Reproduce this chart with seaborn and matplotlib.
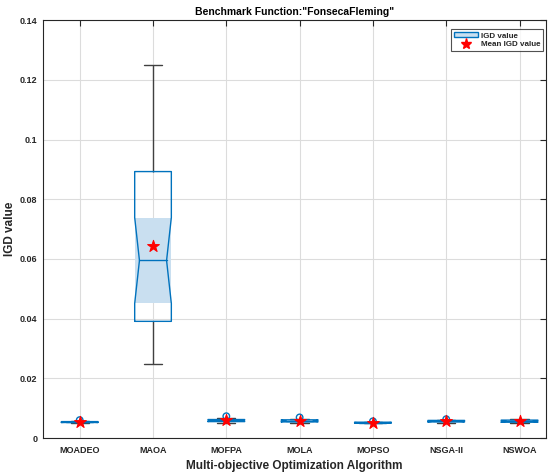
import numpy as np
import pandas as pd
import matplotlib
matplotlib.use("Agg")
import matplotlib.pyplot as plt
import seaborn as sns
from matplotlib.patches import Patch
from matplotlib.lines import Line2D

# ---------------- data ----------------
algorithms = ["MOADEO", "MAOA", "MOFPA", "MOLA", "MOPSO", "NSGA-II", "NSWOA"]
# five-number summaries: lower whisker, Q1, median, Q3, upper whisker
whisker_low = [0.0051, 0.0247, 0.0052, 0.0052, 0.0049, 0.0052, 0.0051]
q1_values   = [0.0052, 0.0391, 0.0055, 0.0054, 0.0050, 0.0054, 0.0053]
medians     = [0.0053, 0.0595, 0.0059, 0.0057, 0.0051, 0.0056, 0.0056]
q3_values   = [0.0055, 0.0893, 0.0062, 0.0061, 0.0053, 0.0059, 0.0060]
whisker_high = [0.0056, 0.1251, 0.0066, 0.0063, 0.0054, 0.0061, 0.0063]
mean_values = [0.0054, 0.0645, 0.0060, 0.0058, 0.0051, 0.0056, 0.0056]
outlier_algorithms = ["MOADEO", "MOFPA", "MOLA", "MOPSO", "NSGA-II"]
outlier_values     = [0.0060, 0.0073, 0.0069, 0.0056, 0.0063]
n_runs = 30
y_ticks = [0, 0.02, 0.04, 0.06, 0.08, 0.1, 0.12, 0.14]
y_tick_labels = ["0", "0.02", "0.04", "0.06", "0.08", "0.1", "0.12", "0.14"]

# ---------------- style ----------------
sns.set_theme(style="white")
plt.rcParams["font.family"] = ["Liberation Sans", "DejaVu Sans"]

BLUE = "#0072BD"
LIGHT = "#c9dff0"
DARK = "#404040"

rows = []
for a, lo, q1, md, q3, hi in zip(algorithms, whisker_low, q1_values, medians, q3_values, whisker_high):
    for v in (lo, q1, md, q3, hi):
        rows.append({"Algorithm": a, "IGD": v})
df = pd.DataFrame(rows)

fig = plt.figure(figsize=(5.52, 4.72), dpi=100)
ax = fig.add_axes([0.078, 0.072, 0.911, 0.885])

width = 0.5
sns.boxplot(data=df, x="Algorithm", y="IGD", order=algorithms, ax=ax,
            whis=(0, 100), width=width, fill=False, showfliers=False,
            linecolor=DARK, linewidth=1.0,
            boxprops=dict(linewidth=0, alpha=0),
            medianprops=dict(linewidth=0, alpha=0),
            whiskerprops=dict(color=DARK, linewidth=1.0),
            capprops=dict(color=DARK, linewidth=1.0),
            zorder=3)

# notched boxes (MATLAB-style), computed from the summaries
half = width / 2
inner = 0.185
for i, (q1, md, q3) in enumerate(zip(q1_values, medians, q3_values)):
    notch = 1.57 * (q3 - q1) / np.sqrt(n_runs)
    nlo, nhi = max(md - notch, q1), min(md + notch, q3)
    ax.fill_between([i - half, i + half], nlo, nhi, color=LIGHT, lw=0, zorder=2)
    xs = [i - half, i - half, i - inner, i - half, i - half,
          i + half, i + half, i + inner, i + half, i + half, i - half]
    ys = [q1, nlo, md, nhi, q3, q3, nhi, md, nlo, q1, q1]
    ax.plot(xs, ys, color=BLUE, lw=1.0, zorder=4)
    ax.plot([i - inner, i + inner], [md, md], color=BLUE, lw=1.0, zorder=4)

# outliers
sns.scatterplot(x=outlier_algorithms, y=outlier_values, ax=ax, marker="o",
                facecolor="none", edgecolor=BLUE, linewidth=1.0, s=22, zorder=5)
# means
sns.scatterplot(x=algorithms, y=mean_values, ax=ax, marker="*", color="red",
                edgecolor="red", s=80, zorder=6)

ax.set_xlim(-0.5, 6.36)
ax.set_ylim(0, 0.14)
ax.set_yticks(y_ticks)
ax.set_yticklabels(y_tick_labels)
ax.grid(True, color="#dcdcdc", lw=0.8, zorder=0)
ax.set_axisbelow(True)
for s in ax.spines.values():
    s.set_color("#262626")
    s.set_linewidth(0.8)
    s.set_visible(True)
ax.tick_params(direction="in", top=True, right=True, length=4, width=0.8,
               labelsize=6.5, colors="#262626")
ax.tick_params(axis="y", pad=4)
ax.tick_params(axis="x", pad=6)
for lab in ax.get_xticklabels() + ax.get_yticklabels():
    lab.set_fontweight("bold")

ax.set_xlabel("Multi-objective Optimization Algorithm", fontsize=8.5,
              fontweight="bold", color="#262626", labelpad=3)
ax.set_ylabel("IGD value", fontsize=8.5, fontweight="bold", color="#262626", labelpad=3)
ax.set_title('Benchmark Function:"FonsecaFleming"', fontsize=7.5,
             fontweight="bold", color="#000000", pad=4)

handles = [Patch(facecolor=LIGHT, edgecolor=BLUE, linewidth=1.0),
           Line2D([], [], marker="*", color="red", linestyle="none", markersize=8)]
leg = ax.legend(handles, ["IGD value", "Mean IGD value"], loc="upper right",
                frameon=True, fancybox=False, borderpad=0.35, borderaxespad=0,
                handlelength=3.0, handleheight=0.6, handletextpad=0.35,
                labelspacing=0.15,
                bbox_to_anchor=(0.994, 0.978),
                prop={"weight": "bold", "size": 5.8})
leg.get_frame().set_edgecolor("#262626")
leg.get_frame().set_linewidth(0.8)

fig.savefig("out.png", dpi=100)
